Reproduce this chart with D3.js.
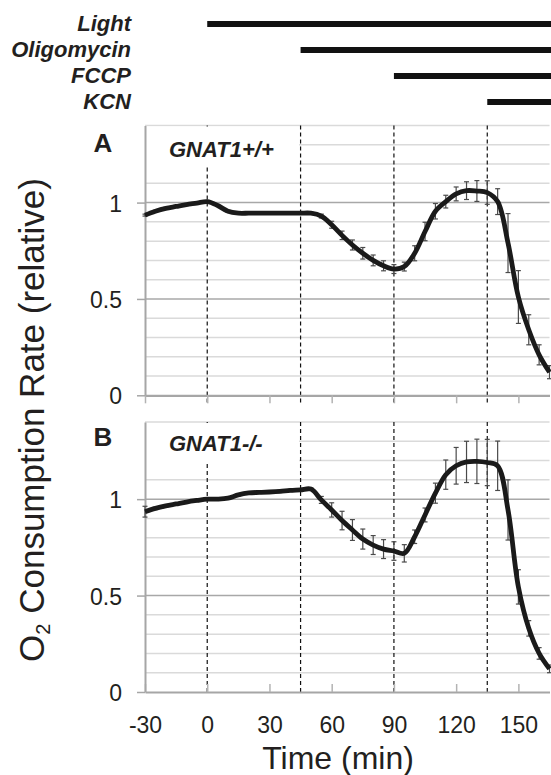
<!DOCTYPE html>
<html>
<head>
<meta charset="utf-8">
<script src="https://cdn.jsdelivr.net/npm/d3@7"></script>
<style>
  html, body { margin: 0; padding: 0; background: #fff; }
  svg { display: block; font-family: "Liberation Sans", Arial, sans-serif; }
  .axis path, .axis line { stroke: #a6a6a6; }
  .axis text { fill: #231f20; font-size: 23px; }
</style>
</head>
<body>
<div class="main"></div>
<script>
// time points (min), one every 5 min
const times = [-30, -25, -20, -15, -10, -5, 0, 5, 10, 15, 20, 25, 30, 35, 40, 45, 50, 55, 60, 65,
               70, 75, 80, 85, 90, 95, 100, 105, 110, 115, 120, 125, 130, 135, 140, 145, 150, 155, 160, 165];

// GNAT1+/+ mean and error
const wtValues = [0.935, 0.955, 0.97, 0.98, 0.99, 0.997, 1.005, 0.985, 0.955, 0.945,
                  0.945, 0.945, 0.945, 0.945, 0.945, 0.945, 0.945, 0.93, 0.885, 0.83,
                  0.78, 0.737, 0.70, 0.672, 0.655, 0.668, 0.737, 0.85, 0.955, 1.005,
                  1.045, 1.062, 1.06, 1.052, 1.005, 0.79, 0.51, 0.34, 0.21, 0.12];
const wtErrors = [0.005, 0.005, 0.005, 0.005, 0.005, 0.005, 0.005, 0.005, 0.005, 0.005,
                  0.005, 0.005, 0.005, 0.005, 0.005, 0.005, 0.005, 0.01, 0.018, 0.022,
                  0.026, 0.03, 0.028, 0.026, 0.023, 0.023, 0.039, 0.048, 0.04, 0.033,
                  0.036, 0.046, 0.054, 0.061, 0.067, 0.153, 0.137, 0.078, 0.052, 0.034];

// GNAT1-/- mean and error
const koValues = [0.935, 0.952, 0.965, 0.975, 0.985, 0.993, 1.0, 1.0, 1.005, 1.022,
                  1.032, 1.035, 1.037, 1.04, 1.045, 1.048, 1.052, 0.996, 0.944, 0.889,
                  0.84, 0.793, 0.762, 0.741, 0.731, 0.719, 0.805, 0.918, 1.031, 1.127,
                  1.173, 1.193, 1.196, 1.19, 1.173, 0.944, 0.545, 0.33, 0.2, 0.12];
const koErrors = [0.028, 0.006, 0.006, 0.006, 0.006, 0.006, 0.006, 0.006, 0.006, 0.006,
                  0.006, 0.006, 0.006, 0.006, 0.006, 0.006, 0.006, 0.018, 0.037, 0.048,
                  0.054, 0.052, 0.049, 0.049, 0.048, 0.045, 0.035, 0.036, 0.052, 0.076,
                  0.095, 0.107, 0.115, 0.12, 0.128, 0.156, 0.089, 0.04, 0.03, 0.02];

// treatments and when they start
const treatments = ["Light", "Oligomycin", "FCCP", "KCN"];
const treatmentStart = [0, 45, 90, 135];

const xTicks = [-30, 0, 30, 60, 90, 120, 150];
const yTicks = [0, 0.5, 1];

const svgWidth = 551, svgHeight = 775;
const ink = "#231f20";

let svg = d3.select("body>.main").append("svg")
    .attr("width", svgWidth)
    .attr("height", svgHeight);

let x = d3.scaleLinear().domain([-30, 165]).range([145, 549.5]);

// treatment bars on top
const labelBase = 31, labelStep = 26;
let header = svg.append("g").attr("class", "treatments");
treatments.forEach(function(t, i) {
  let base = labelBase + i * labelStep;
  header.append("text")
      .attr("x", 131)
      .attr("y", base)
      .attr("text-anchor", "end")
      .style("font-size", "22px")
      .style("font-weight", "bold")
      .style("font-style", "italic")
      .style("fill", ink)
      .text(t);
  header.append("rect")
      .attr("x", x(treatmentStart[i]))
      .attr("y", base - 10)
      .attr("width", svgWidth - x(treatmentStart[i]))
      .attr("height", 6)
      .style("fill", "#111");
});

function drawPanel(cfg) {
  let y = d3.scaleLinear().domain([0, 1.4]).range([cfg.bottom, cfg.top]);
  let g = svg.append("g").attr("class", "panel");

  // gridlines
  g.append("g").attr("class", "grid")
    .selectAll("line")
    .data(y.ticks(14).filter(d => d > 0.01))
    .enter().append("line")
      .attr("x1", x.range()[0])
      .attr("x2", x.range()[1])
      .attr("y1", d => y(d))
      .attr("y2", d => y(d))
      .style("stroke", d => (Math.abs(d - 0.5) < 1e-6 || Math.abs(d - 1) < 1e-6) ? "#a8a8a8" : "#dadada")
      .style("stroke-width", 1.5);

  // dashed treatment markers
  g.append("g").attr("class", "markers")
    .selectAll("line")
    .data(treatmentStart)
    .enter().append("line")
      .attr("x1", d => x(d))
      .attr("x2", d => x(d))
      .attr("y1", y(1.4))
      .attr("y2", y(0) + cfg.tickDown)
      .style("stroke", "#111")
      .style("stroke-width", 1.2)
      .style("stroke-dasharray", "4,3");

  // white box behind the genotype label
  g.append("rect")
      .attr("x", x(-30) + 1)
      .attr("y", y(1.4) + 1)
      .attr("width", x(45) - x(-30) - 2.5)
      .attr("height", y(1.2) - y(1.4) + 1)
      .style("fill", "#fff");

  // x axis
  let xAxis = d3.axisBottom(x)
      .tickValues(xTicks)
      .tickSize(cfg.tickDown ? 8 : -8)
      .tickSizeOuter(0)
      .tickPadding(25)
      .tickFormat(cfg.labels ? (d => String(d)) : "");
  let xg = g.append("g")
      .attr("class", "x axis")
      .attr("transform", "translate(0," + y(0) + ")")
      .call(xAxis);
  xg.select(".domain").style("stroke-width", 2.2);
  xg.selectAll(".tick line").style("stroke", "#b3b3b3").style("stroke-width", 1.5);

  // y axis
  let yAxis = d3.axisLeft(y)
      .tickValues(yTicks)
      .tickSize(8)
      .tickSizeOuter(0)
      .tickPadding(15)
      .tickFormat(d => String(d));
  let yg = g.append("g")
      .attr("class", "y axis")
      .attr("transform", "translate(" + x(-30) + ",0)")
      .call(yAxis);
  yg.select(".domain").style("stroke-width", 2);
  yg.selectAll(".tick line").style("stroke-width", 1.5);
  yg.selectAll(".tick text").attr("dy", "0.37em");

  // error bars
  let pts = times.map((t, i) => ({t: t, v: cfg.values[i], e: cfg.errors[i]}));
  let eb = g.append("g").attr("class", "errorbars")
    .selectAll("g")
    .data(pts)
    .enter().append("g")
      .style("stroke", "#4a4a4a")
      .style("stroke-width", 1.2);
  eb.append("line")
      .attr("x1", d => x(d.t)).attr("x2", d => x(d.t))
      .attr("y1", d => y(d.v - d.e)).attr("y2", d => y(d.v + d.e));
  eb.append("line")
      .attr("x1", d => x(d.t) - 2.5).attr("x2", d => x(d.t) + 2.5)
      .attr("y1", d => y(d.v - d.e)).attr("y2", d => y(d.v - d.e));
  eb.append("line")
      .attr("x1", d => x(d.t) - 2.5).attr("x2", d => x(d.t) + 2.5)
      .attr("y1", d => y(d.v + d.e)).attr("y2", d => y(d.v + d.e));

  // mean curve
  let line = d3.line()
      .x(d => x(d.t))
      .y(d => y(d.v))
      .curve(d3.curveCatmullRom.alpha(0.5));
  g.append("path")
      .datum(pts)
      .attr("d", line)
      .style("fill", "none")
      .style("stroke", "#1a1a1a")
      .style("stroke-width", 4.8)
      .style("stroke-linejoin", "round");

  // panel letter and genotype
  g.append("text")
      .attr("x", 103)
      .attr("y", cfg.letterBase)
      .attr("text-anchor", "middle")
      .style("font-size", "26px")
      .style("font-weight", "bold")
      .style("fill", ink)
      .text(cfg.letter);
  g.append("text")
      .attr("x", 169)
      .attr("y", cfg.letterBase + 5)
      .style("font-size", "22px")
      .style("font-weight", "bold")
      .style("font-style", "italic")
      .style("fill", ink)
      .text(cfg.name);
}

drawPanel({top: 125.5, bottom: 395.3, tickDown: 8, labels: false,
           letter: "A", letterBase: 152, name: "GNAT1+/+", values: wtValues, errors: wtErrors});
drawPanel({top: 422, bottom: 692, tickDown: 0, labels: true,
           letter: "B", letterBase: 446, name: "GNAT1-/-", values: koValues, errors: koErrors});

// axis titles
let yTitle = svg.append("text")
    .attr("transform", "translate(44,420) rotate(-90)")
    .attr("text-anchor", "middle")
    .style("font-size", "35px")
    .style("fill", ink);
yTitle.append("tspan").text("O");
yTitle.append("tspan").attr("dy", "0.3em").style("font-size", "20px").text("2");
yTitle.append("tspan").attr("dy", "-0.18em").text(" Consumption Rate (relative)");

svg.append("text")
    .attr("x", 338)
    .attr("y", 769)
    .attr("text-anchor", "middle")
    .style("font-size", "32px")
    .style("fill", ink)
    .text("Time (min)");
</script>
</body>
</html>
